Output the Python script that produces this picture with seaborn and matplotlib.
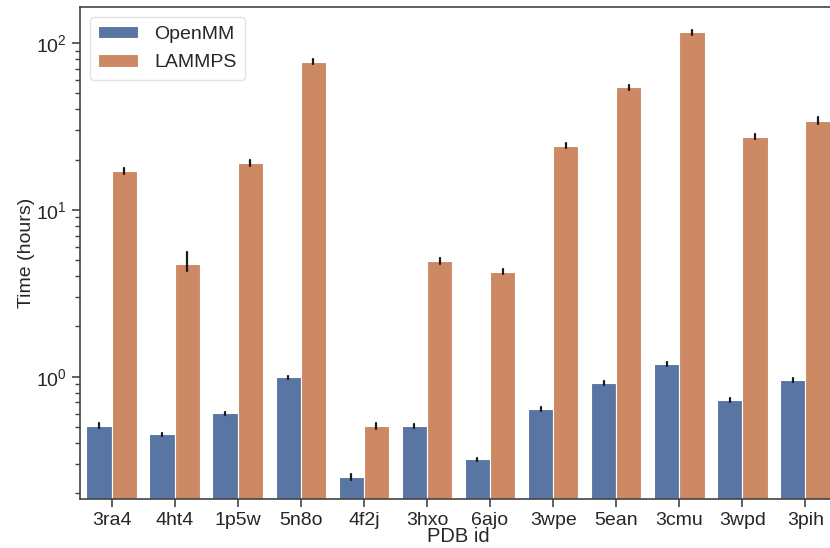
import numpy as np
import pandas as pd
import matplotlib
matplotlib.use("Agg")
import matplotlib.pyplot as plt
import seaborn as sns

pdb_ids = ["3ra4", "4ht4", "1p5w", "5n8o", "4f2j", "3hxo", "6ajo", "3wpe", "5ean", "3cmu", "3wpd", "3pih"]
openmm = [0.508, 0.451, 0.603, 0.99, 0.251, 0.504, 0.319, 0.640, 0.92, 1.197, 0.725, 0.955]
openmm_lo = [0.492, 0.443, 0.592, 0.965, 0.240, 0.490, 0.311, 0.625, 0.895, 1.165, 0.708, 0.932]
openmm_hi = [0.524, 0.459, 0.614, 1.015, 0.262, 0.518, 0.327, 0.655, 0.945, 1.229, 0.742, 0.978]
lammps = [17.1, 4.74, 19.1, 77.3, 0.508, 4.94, 4.25, 24.2, 54.2, 115.8, 27.5, 34.3]
lammps_lo = [16.4, 4.32, 18.4, 74.5, 0.487, 4.75, 4.10, 23.4, 52.3, 111.5, 26.4, 32.7]
lammps_hi = [17.8, 5.55, 19.8, 80.1, 0.531, 5.15, 4.40, 25.0, 56.1, 120.0, 28.6, 35.9]

rows = []
for i, p in enumerate(pdb_ids):
    for v in (openmm_lo[i], openmm[i], openmm_hi[i]):
        rows.append({"PDB id": p, "Time (hours)": v, "Engine": "OpenMM"})
    for v in (lammps_lo[i], lammps[i], lammps_hi[i]):
        rows.append({"PDB id": p, "Time (hours)": v, "Engine": "LAMMPS"})
df = pd.DataFrame(rows)

sns.set_theme(style="ticks")
plt.rcParams["font.family"] = ["Liberation Sans", "DejaVu Sans"]

fig = plt.figure(figsize=(8.30, 5.48), dpi=100)
ax = fig.add_axes([80/830, 1 - 499.3/548, (837 - 80)/830, (499.3 - 7.3)/548])

sns.barplot(data=df, x="PDB id", y="Time (hours)", hue="Engine",
            estimator="median", errorbar=("pi", 100),
            palette=["#4c72b0", "#dd8452"], saturation=0.75,
            edgecolor="white", linewidth=0.8,
            err_kws={"color": "#1a1a1a", "linewidth": 1.6}, ax=ax)

ax.set_yscale("log")
ax.set_ylim(0.184, 163.7)
ax.set_xlim(-0.5, 11.5)

ax.tick_params(axis="both", labelsize=14, length=6, width=1.2, color="#444444")
ax.tick_params(axis="y", which="minor", length=3.5, width=1.0, color="#444444")
ax.set_xlabel("PDB id", fontsize=14.5, labelpad=-1.5)
ax.set_ylabel("Time (hours)", fontsize=14)
ax.yaxis.set_label_coords(-0.060, 0.5)
for s in ax.spines.values():
    s.set_color("#444444")
    s.set_linewidth(1.2)

leg = ax.legend(loc="upper left", fontsize=14, frameon=True, title=None,
                borderaxespad=0.5, handlelength=2.05, handleheight=0.6,
                handletextpad=0.8, labelspacing=0.6, borderpad=0.45)
leg.get_frame().set_edgecolor("#dddddd")

fig.savefig("out.png", dpi=100)
